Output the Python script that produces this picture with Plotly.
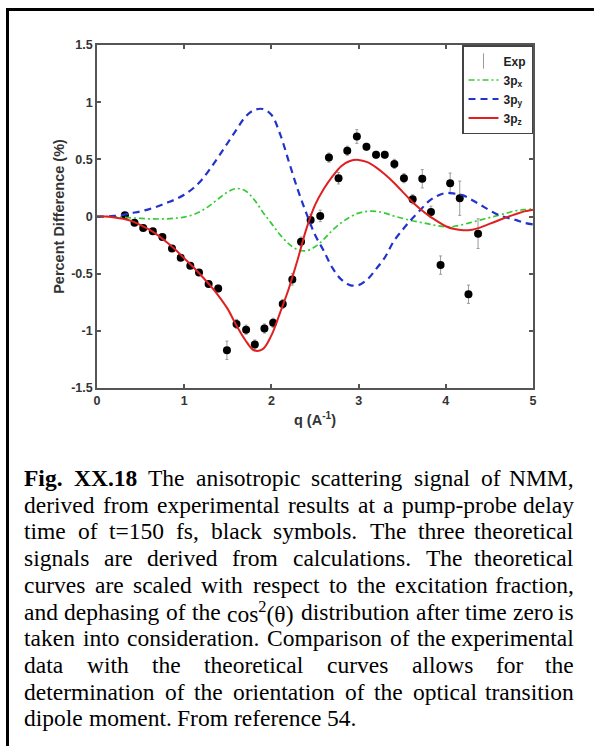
import plotly.graph_objects as go
import re

# ---------------- data ----------------
q_exp = [0.32, 0.43, 0.53, 0.64, 0.75, 0.86, 0.96, 1.07, 1.17, 1.28, 1.39, 1.49, 1.60,
         1.71, 1.81, 1.92, 2.02, 2.13, 2.24, 2.34, 2.45, 2.56, 2.66, 2.77, 2.87, 2.98,
         3.09, 3.20, 3.30, 3.41, 3.52, 3.62, 3.73, 3.83, 3.94, 4.05, 4.16, 4.26, 4.37]
y_exp = [0.01, -0.055, -0.10, -0.13, -0.18, -0.28, -0.36, -0.43, -0.49, -0.59, -0.63,
         -1.17, -0.94, -0.99, -1.12, -0.98, -0.93, -0.765, -0.55, -0.22, -0.03, 0.005,
         0.515, 0.335, 0.575, 0.70, 0.61, 0.54, 0.54, 0.46, 0.335, 0.15, 0.33, 0.04,
         -0.425, 0.29, 0.16, -0.68, -0.15]
err_exp = [0.02, 0.02, 0.02, 0.02, 0.02, 0.02, 0.02, 0.02, 0.02, 0.02, 0.03, 0.08, 0.04,
           0.04, 0.04, 0.04, 0.04, 0.04, 0.05, 0.04, 0.05, 0.05, 0.04, 0.05, 0.04, 0.06,
           0.03, 0.03, 0.03, 0.04, 0.04, 0.04, 0.08, 0.05, 0.08, 0.09, 0.15, 0.08, 0.13]

q_th = [0.0, 0.1, 0.2, 0.3, 0.4, 0.5, 0.6, 0.7, 0.8, 0.9, 1.0, 1.1, 1.2, 1.3, 1.4, 1.5,
        1.6, 1.7, 1.8, 1.9, 2.0, 2.1, 2.2, 2.3, 2.4, 2.5, 2.6, 2.7, 2.8, 2.9, 3.0, 3.1,
        3.2, 3.3, 3.4, 3.5, 3.6, 3.7, 3.8, 3.9, 4.0, 4.1, 4.2, 4.3, 4.4, 4.5, 4.6, 4.7,
        4.8, 4.9, 5.0]
p3x = [0.0, 0.0, -0.003, -0.007, -0.012, -0.016, -0.02, -0.022, -0.02, -0.015, -0.005,
       0.015, 0.05, 0.10, 0.16, 0.215, 0.245, 0.225, 0.15, 0.04, -0.06, -0.16, -0.24,
       -0.29, -0.30, -0.265, -0.20, -0.12, -0.055, -0.005, 0.03, 0.045, 0.045, 0.03,
       0.005, -0.015, -0.035, -0.05, -0.065, -0.08, -0.09, -0.085, -0.07, -0.05, -0.03,
       -0.01, 0.01, 0.03, 0.05, 0.06, 0.065]
p3y = [0.0, 0.0, 0.005, 0.015, 0.03, 0.045, 0.065, 0.09, 0.12, 0.15, 0.19, 0.245, 0.32,
       0.42, 0.53, 0.645, 0.76, 0.87, 0.93, 0.94, 0.89, 0.72, 0.48, 0.24, 0.03, -0.16,
       -0.30, -0.45, -0.55, -0.60, -0.60, -0.55, -0.46, -0.36, -0.22, -0.12, -0.03, 0.05,
       0.13, 0.18, 0.205, 0.20, 0.185, 0.145, 0.10, 0.055, 0.015, -0.01, -0.03, -0.055,
       -0.07]
p3z = [0.0, 0.0, -0.008, -0.02, -0.04, -0.075, -0.115, -0.165, -0.225, -0.29, -0.365,
       -0.44, -0.52, -0.605, -0.70, -0.81, -0.955, -1.08, -1.17, -1.16, -1.04, -0.84,
       -0.63, -0.38, -0.11, 0.10, 0.24, 0.35, 0.44, 0.485, 0.495, 0.475, 0.43, 0.37,
       0.30, 0.22, 0.14, 0.07, 0.01, -0.04, -0.085, -0.11, -0.12, -0.115, -0.095, -0.065,
       -0.035, -0.005, 0.02, 0.045, 0.06]

x_ticks = [0, 1, 2, 3, 4, 5]
y_ticks = [-1.5, -1, -0.5, 0, 0.5, 1, 1.5]
y_ticklabels = ["-1.5", "-1", "-0.5", "0", "0.5", "1", "1.5"]

caption_lines = [
    "<b>Fig.</b> <b>XX.18</b> The anisotropic scattering signal of NMM,",
    "derived from experimental results at a pump-probe delay",
    "time of t=150 fs, black symbols. The three theoretical",
    "signals are derived from calculations. The theoretical",
    "curves are scaled with respect to the excitation fraction,",
    "and dephasing of the cos<sup>2</sup>(θ) distribution after time zero is",
    "taken into consideration. Comparison of the experimental",
    "data with the theoretical curves allows for the",
    "determination of the orientation of the optical transition",
    "dipole moment. From reference 54.",
]

# ---------------- layout geometry ----------------
W, H = 594, 746
L, R, T, B = 97, 61, 45, 358
PW, PH = W - L - R, H - T - B

def px2x(px):
    return (px - L) / PW

def py2y(py):
    return (H - B - py) / PH

SANS = "Liberation Sans, Arial, sans-serif"
SERIF = "Liberation Serif, Times New Roman, serif"
AX = "#555555"

fig = go.Figure()

fig.add_trace(go.Scatter(
    x=q_exp, y=y_exp, mode="markers", showlegend=False,
    marker=dict(color="black", size=8),
    error_y=dict(type="data", array=err_exp, color="#9a9a9a", thickness=1, width=1.5),
))
fig.add_trace(go.Scatter(
    x=[None], y=[None], mode="markers", name="Exp",
    marker=dict(symbol="line-ns-open", size=11, color="#9a9a9a",
                line=dict(color="#9a9a9a", width=1)),
))
fig.add_trace(go.Scatter(
    x=q_th, y=p3x, mode="lines", name="3p<sub>x</sub>", line_shape="spline",
    line=dict(color="#33cc33", width=1.7, dash="6px,3px,2px,3px"),
))
fig.add_trace(go.Scatter(
    x=q_th, y=p3y, mode="lines", name="3p<sub>y</sub>", line_shape="spline",
    line=dict(color="#2233cc", width=2.2, dash="7px,5px"),
))
fig.add_trace(go.Scatter(
    x=q_th, y=p3z, mode="lines", name="3p<sub>z</sub>", line_shape="spline",
    line=dict(color="#e02020", width=2),
))

axis_common = dict(
    showline=True, linecolor=AX, linewidth=1.6, mirror="ticks",
    ticks="inside", ticklen=4, tickcolor=AX, tickwidth=1.5,
    showgrid=False, zeroline=False,
    tickfont=dict(family=SANS, size=12.5, color="#333", weight="bold"),
)

fig.update_xaxes(range=[0, 5], tickvals=x_ticks, ticktext=[str(v) for v in x_ticks],
                 title=dict(text="q (A<sup>-1</sup>)", standoff=8,
                            font=dict(family=SANS, size=14.5, color="#333", weight="bold")),
                 **axis_common)
fig.update_yaxes(range=[-1.5, 1.5], tickvals=y_ticks, ticktext=y_ticklabels,
                 title=dict(text="Percent Difference (%)", standoff=3,
                            font=dict(family=SANS, size=14.5, color="#333", weight="bold")),
                 **axis_common)

# ---------------- caption with justified lines ----------------
TR = {' ': 250, ',': 250, '.': 250, '-': 333, '=': 564, '(': 333, ')': 333, 'θ': 500,
      '0': 500, '1': 500, '2': 500, '3': 500, '4': 500, '5': 500, '6': 500, '7': 500,
      '8': 500, '9': 500,
      'A': 722, 'B': 667, 'C': 667, 'D': 722, 'E': 611, 'F': 556, 'G': 722, 'H': 722,
      'I': 333, 'J': 389, 'K': 722, 'L': 611, 'M': 889, 'N': 722, 'O': 722, 'P': 556,
      'Q': 722, 'R': 667, 'S': 556, 'T': 611, 'U': 722, 'V': 722, 'W': 944, 'X': 722,
      'Y': 722, 'Z': 611,
      'a': 444, 'b': 500, 'c': 444, 'd': 500, 'e': 444, 'f': 333, 'g': 500, 'h': 500,
      'i': 278, 'j': 278, 'k': 500, 'l': 278, 'm': 778, 'n': 500, 'o': 500, 'p': 500,
      'q': 500, 'r': 333, 's': 389, 't': 278, 'u': 500, 'v': 500, 'w': 722, 'x': 500,
      'y': 500, 'z': 444}
TB = dict(TR)
TB.update({'F': 611, 'X': 722, 'i': 278, 'g': 500})

FS = 23.5
CAP_L, CAP_R = 23, 575
LINE0, LINE_DY = 478, 26.7

def word_width(w):
    bold = "<b>" in w
    tab = TB if bold else TR
    total = 0.0
    for m in re.finditer(r"<sup>(.*?)</sup>|<[^>]+>|([^<])", w):
        if m.group(1) is not None:
            total += 0.7 * sum(tab.get(c, 500) for c in m.group(1))
        elif m.group(2) is not None:
            total += tab.get(m.group(2), 500)
    return total * FS / 1000.0

annotations = []
for i, line in enumerate(caption_lines):
    yc = LINE0 + i * LINE_DY
    words = line.split(" ")
    widths = [word_width(w) for w in words]
    last = i == len(caption_lines) - 1
    if last:
        gap = 250 * FS / 1000.0
    else:
        gap = (CAP_R - CAP_L - sum(widths)) / (len(words) - 1)
    xpos = CAP_L
    for j, (w, ww) in enumerate(zip(words, widths)):
        if (not last) and j == len(words) - 1:
            ax_x, anchor = CAP_R, "right"
        else:
            ax_x, anchor = xpos, "left"
        annotations.append(dict(
            text=w, x=px2x(ax_x), y=py2y(yc), xref="paper", yref="paper",
            xanchor=anchor, yanchor="middle", showarrow=False, borderpad=0,
            font=dict(family=SERIF, size=FS, color="black"),
        ))
        xpos += ww + gap

fig.update_layout(
    width=W, height=H,
    margin=dict(l=L, r=R, t=T, b=B, pad=0),
    paper_bgcolor="white", plot_bgcolor="white",
    showlegend=True,
    legend=dict(x=1, y=1, xanchor="right", yanchor="top",
                bordercolor="#444", borderwidth=1.5, bgcolor="white",
                font=dict(family=SANS, size=12, color="#222", weight="bold"),
                itemwidth=30, tracegroupgap=0),
    annotations=annotations,
    shapes=[dict(type="rect", xref="paper", yref="paper",
                 x0=px2x(7.5), x1=px2x(620), y0=py2y(9.5), y1=py2y(800),
                 line=dict(color="black", width=3), fillcolor="rgba(0,0,0,0)",
                 layer="below")],
)

fig.write_html("out.html")
